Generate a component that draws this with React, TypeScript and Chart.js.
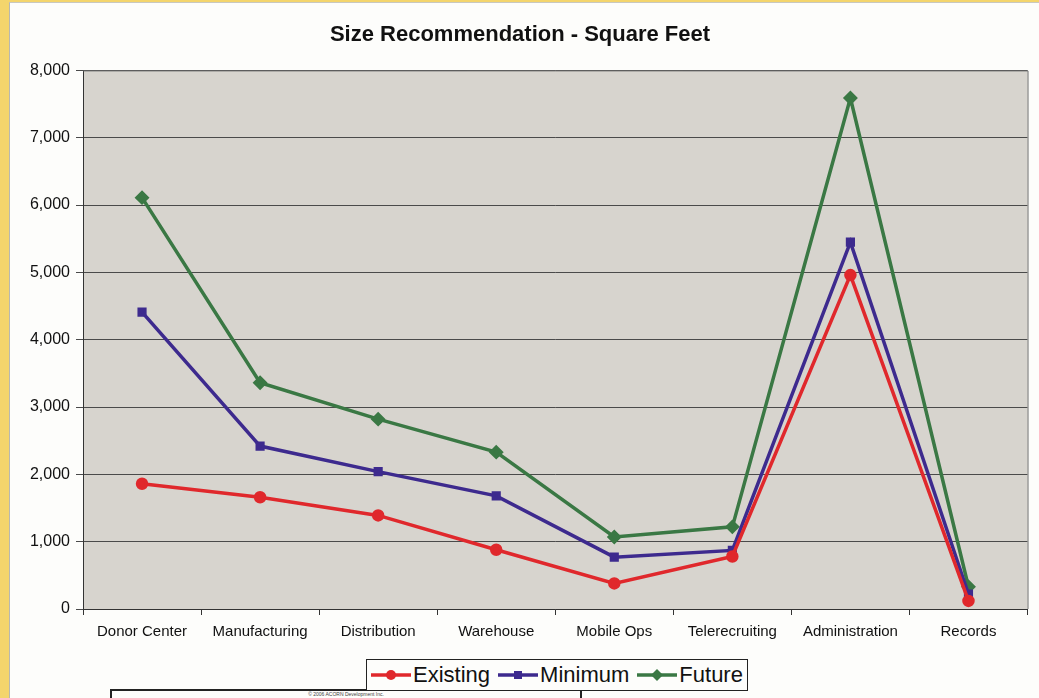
import React, { useEffect, useRef } from "react";
import { Chart, registerables } from "chart.js";

Chart.register(...registerables);

const categories = [
  "Donor Center",
  "Manufacturing",
  "Distribution",
  "Warehouse",
  "Mobile Ops",
  "Telerecruiting",
  "Administration",
  "Records",
];
const existing = [1860, 1660, 1390, 880, 380, 780, 4960, 120];
const minimum = [4410, 2420, 2040, 1680, 770, 870, 5450, 220];
const future = [6110, 3360, 2820, 2330, 1070, 1220, 7590, 330];
const seriesNames = ["Existing", "Minimum", "Future"];
const seriesColors = ["#e0282c", "#3d2a8e", "#3a7844"];
const yMin = 0;
const yMax = 8000;
const yStep = 1000;

const FONT = "'Liberation Sans', Arial, Helvetica, sans-serif";

const plotBg = {
  id: "plotBg",
  beforeDraw(chart: any) {
    const { ctx, chartArea } = chart;
    ctx.save();
    ctx.fillStyle = "#d7d4ce";
    ctx.fillRect(chartArea.left, chartArea.top, chartArea.right - chartArea.left, chartArea.bottom - chartArea.top);
    ctx.restore();
  },
  afterDraw(chart: any) {
    const { ctx, chartArea } = chart;
    ctx.save();
    ctx.strokeStyle = "#6a6a6a";
    ctx.lineWidth = 1;
    ctx.beginPath();
    ctx.moveTo(chartArea.left, chartArea.top + 0.5);
    ctx.lineTo(chartArea.right + 0.5, chartArea.top + 0.5);
    ctx.lineTo(chartArea.right + 0.5, chartArea.bottom);
    ctx.stroke();
    ctx.restore();
  },
};

function LegendIcon({ color, kind }: { color: string; kind: string }) {
  let marker: any = null;
  if (kind === "circle") marker = <circle cx={20} cy={8} r={5} fill={color} />;
  else if (kind === "rect") marker = <rect x={16} y={4} width={8} height={8} fill={color} />;
  else marker = <polygon points="20,2 26,8 20,14 14,8" fill={color} />;
  return (
    <svg width={40} height={16} style={{ display: "inline-block", verticalAlign: "middle", marginRight: 2 }}>
      <line x1={0} y1={8} x2={40} y2={8} stroke={color} strokeWidth={3.5} />
      {marker}
    </svg>
  );
}

export default function App() {
  const ref = useRef<HTMLCanvasElement | null>(null);

  useEffect(() => {
    if (!ref.current) return;
    const styles = [
      { pointStyle: "circle", pointRadius: 4.5 },
      { pointStyle: "rect", pointRadius: 4 },
      { pointStyle: "rectRot", pointRadius: 5 },
    ];
    const values = [existing, minimum, future];
    const chart = new Chart(ref.current, {
      type: "line",
      data: {
        labels: categories,
        datasets: seriesNames.map((name, i) => ({
          label: name,
          data: values[i],
          borderColor: seriesColors[i],
          backgroundColor: seriesColors[i],
          pointBackgroundColor: seriesColors[i],
          pointBorderColor: seriesColors[i],
          borderWidth: 3.5,
          pointStyle: styles[i].pointStyle as any,
          pointRadius: styles[i].pointRadius,
          tension: 0,
          fill: false,
        })),
      },
      options: {
        animation: false,
        responsive: false,
        maintainAspectRatio: false,
        layout: { padding: { left: 0, right: 8, top: 0, bottom: 0 } },
        plugins: {
          legend: { display: false },
          tooltip: { enabled: false },
          title: {
            display: true,
            text: "Size Recommendation - Square Feet",
            color: "#111",
            font: { family: FONT, size: 22, weight: "bold" },
            padding: { top: 16, bottom: 22 },
          },
        },
        scales: {
          x: {
            type: "category",
            offset: true,
            grid: {
              offset: true,
              drawOnChartArea: false,
              drawTicks: true,
              tickLength: 6,
              color: "#333",
            },
            border: { display: true, color: "#333", width: 1 },
            ticks: {
              color: "#111",
              font: { family: FONT, size: 15 },
              padding: 8,
              maxRotation: 0,
              autoSkip: false,
            },
            afterFit(scale: any) {
              scale.height = 37;
            },
          },
          y: {
            min: yMin,
            max: yMax,
            grid: {
              color: "#4a4a4a",
              lineWidth: 1,
              drawTicks: true,
              tickLength: 7,
            },
            border: { display: true, color: "#333", width: 1 },
            ticks: {
              stepSize: yStep,
              color: "#111",
              font: { family: FONT, size: 16 },
              padding: 6,
              callback: (v: any) => Number(v).toLocaleString("en-US"),
            },
            afterFit(scale: any) {
              scale.width = 71;
            },
          },
        },
      },
      plugins: [plotBg],
    });
    return () => chart.destroy();
  }, []);

  const kinds = ["circle", "rect", "diamond"];

  return (
    <div
      style={{
        position: "absolute",
        left: 0,
        top: 0,
        width: 1039,
        height: 698,
        background: "#f4d56c",
        overflow: "hidden",
        fontFamily: FONT,
      }}
    >
      <div
        style={{
          position: "absolute",
          left: 9,
          top: 2,
          width: 1040,
          height: 710,
          background: "#fdfdfb",
          borderLeft: "1px solid #b8b8b0",
          borderTop: "1px solid #c8c8c0",
        }}
      />
      <canvas
        ref={ref}
        width={1024}
        height={640}
        style={{ position: "absolute", left: 12, top: 6, width: 1024, height: 640 }}
      />
      <div
        style={{
          position: "absolute",
          left: 110,
          top: 689,
          width: 468,
          height: 20,
          border: "2px solid #222",
          background: "#fdfdfb",
          fontSize: 5,
          color: "#444",
          textAlign: "center",
          lineHeight: "6px",
        }}
      >
        © 2006 ACORN Development Inc.
      </div>
      <div
        style={{
          position: "absolute",
          left: 366,
          top: 659,
          width: 380,
          height: 30,
          border: "1px solid #222",
          background: "#fdfdfb",
          display: "flex",
          alignItems: "center",
          justifyContent: "center",
          fontSize: 22,
          color: "#111",
          whiteSpace: "nowrap",
        }}
      >
        {seriesNames.map((n, i) => (
          <span key={n} style={{ display: "inline-flex", alignItems: "center", marginRight: i < 2 ? 8 : 0 }}>
            <LegendIcon color={seriesColors[i]} kind={kinds[i]} />
            {n}
          </span>
        ))}
      </div>
    </div>
  );
}
